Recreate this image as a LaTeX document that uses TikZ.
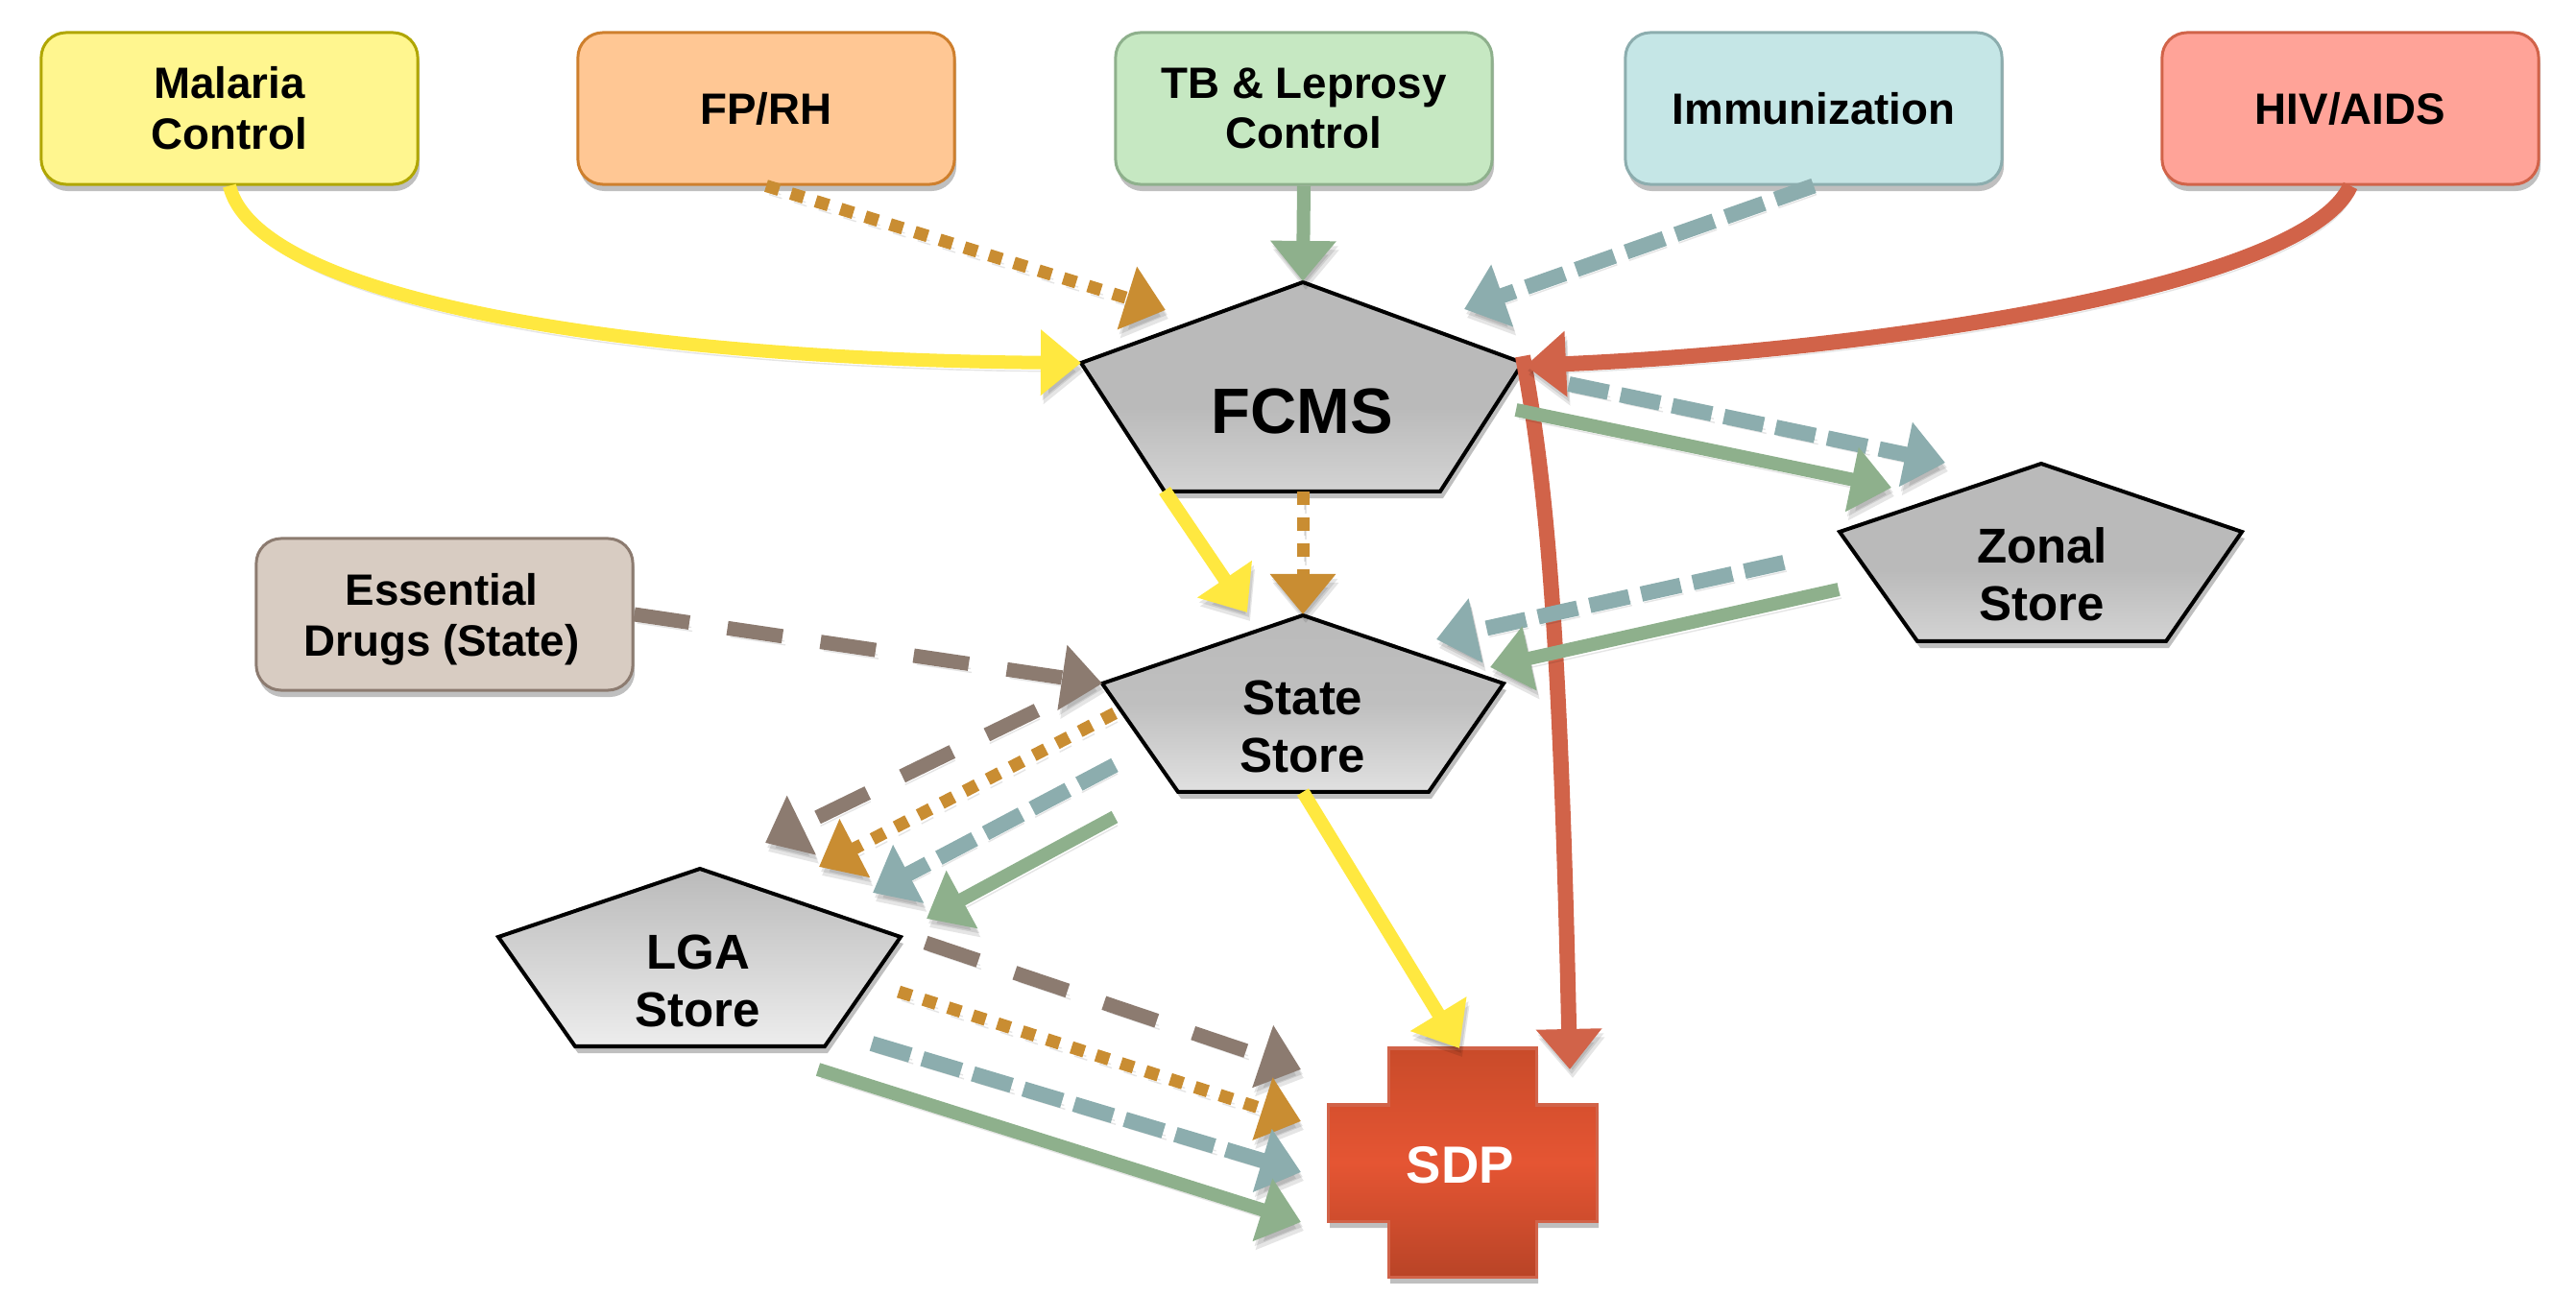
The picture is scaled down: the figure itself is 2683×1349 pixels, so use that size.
\documentclass[tikz,border=0pt]{standalone}
\usepackage{fontspec}
\setmainfont{Liberation Sans}
\usepackage{tikz}
\usetikzlibrary{arrows.meta, shadows}

\definecolor{hivred}{HTML}{D16349}
\definecolor{malyellow}{HTML}{FFE840}
\definecolor{tbgreen}{HTML}{8EB08C}
\definecolor{immteal}{HTML}{8CADAE}
\definecolor{fporange}{HTML}{C98D32}
\definecolor{essbrown}{HTML}{8C7B70}
\definecolor{malfill}{HTML}{FFF68F}
\definecolor{fpfill}{HTML}{FFC794}
\definecolor{tbfill}{HTML}{C6E8C2}
\definecolor{immfill}{HTML}{C5E6E6}
\definecolor{hivfill}{HTML}{FFA398}
\definecolor{essfill}{HTML}{D8CCC2}
\definecolor{sdpdark}{HTML}{B94427}
\definecolor{sdpmid}{HTML}{E55533}
\definecolor{sdptop}{HTML}{C94B2A}
\pgfdeclareverticalshading{storefade}{100bp}{color(0bp)=(black!17); color(25bp)=(black!17); color(45bp)=(black!27); color(100bp)=(black!27)}

\tikzset{
    link/.style={-{Triangle[length=0.42cm, width=0.66cm]}, dash pattern=#1,
        preaction={draw=black, dash pattern=#1, opacity=.1, transform canvas={xshift=.03cm, yshift=-.09cm}},
        preaction={draw=black, dash pattern=#1, opacity=.1, transform canvas={xshift=.02cm, yshift=-.05cm}}},
    link/.default={on 60cm off 0cm},
    yellowlink/.style={link, draw=malyellow, line width=0.14cm},
    greenlink/.style={link, draw=tbgreen, line width=0.14cm},
    redlink/.style={link, draw=hivred, line width=0.16cm},
    teallink/.style={link={on 0.42cm off 0.13cm}, draw=immteal, line width=0.16cm},
    orangelink/.style={link={on 0.14cm off 0.13cm}, draw=fporange, line width=0.13cm},
    brownlink/.style={link={on 0.58cm off 0.4cm}, draw=essbrown, line width=0.15cm},
    programtext/.style={align=center, font=\fontsize{13}{15}\selectfont\bfseries},
    program/.style 2 args={programtext, draw=#1, fill=#2, line width=0.03cm, rounded corners=0.26cm,
        minimum width=3.92cm, minimum height=1.58cm,
        drop shadow={shadow xshift=0.02cm, shadow yshift=-0.07cm, opacity=.25, fill=black}},
    storeshape/.style={draw=black, line width=0.04cm,
        drop shadow={shadow xshift=0.03cm, shadow yshift=-0.07cm, opacity=.25, fill=black}},
    storetext/.style={align=center, font=\fontsize{14.5}{17}\selectfont\bfseries}
}

\begin{document}
\begin{tikzpicture}[x=0.01cm, y=-0.01cm]
    \useasboundingbox (0, 0) rectangle (2683, 1349);

    % programs
    \node[program={olive!70!yellow}{malfill}] (malaria) at (239, 113) {Malaria\\Control};
    \node[program={fporange!90!red}{fpfill}] (fprh) at (798, 113) {FP/RH};
    \node[program={tbgreen}{tbfill}] (tb) at (1358, 113) {TB \& Leprosy\\Control};
    \node[program={immteal}{immfill}] (immun) at (1889, 113) {Immunization};
    \node[program={hivred}{hivfill}] (hiv) at (2448, 113) {HIV/AIDS};
    \node[program={essbrown}{essfill}] (essential) at (463, 640) {};
    \node[programtext] (essentialText) at (460, 645) {Essential\\Drugs (State)};

    % stores
    \draw[storeshape, shading=storefade]
        (1357, 294) -- (1586, 378) -- (1500, 512) -- (1213, 512) -- (1126, 378) -- cycle;
    \draw[storeshape, shading=storefade]
        (2126, 483) -- (2335, 554) -- (2256, 668) -- (1997, 668) -- (1916, 554) -- cycle;
    \draw[storeshape, top color=black!27, bottom color=black!12, middle color=black!25]
        (1357, 641) -- (1566, 712) -- (1488, 825) -- (1227, 825) -- (1148, 712) -- cycle;
    \draw[storeshape, top color=black!27, bottom color=black!7]
        (729, 905) -- (938, 976) -- (859, 1090) -- (599, 1090) -- (519, 976) -- cycle;

    % SDP cross
    \draw[draw=hivred, line width=0.03cm, top color=sdptop, bottom color=sdpdark, middle color=sdpmid,
        drop shadow={shadow xshift=0.02cm, shadow yshift=-0.07cm, opacity=.25, fill=black}]
        (1446, 1092) -- (1600, 1092) -- (1600, 1151) -- (1663, 1151) -- (1663, 1272) -- (1600, 1272)
        -- (1600, 1330) -- (1446, 1330) -- (1446, 1272) -- (1383, 1272) -- (1383, 1151) -- (1446, 1151) -- cycle;

    \node[font=\fontsize{19}{22}\selectfont\bfseries] (fcms) at (1356, 429) {FCMS};
    \node[storetext] (zonal) at (2127, 598) {Zonal\\Store};
    \node[storetext] (state) at (1357, 757) {State\\Store};
    \node[storetext] (lga) at (727, 1022) {LGA\\Store};
    \node[text=white, font=\fontsize{15.5}{18}\selectfont\bfseries] (sdp) at (1521, 1214) {SDP};

    % attachment points
    \coordinate (fcmsTop) at (1357, 293);
    \coordinate (fcmsLeft) at (1126, 378);
    \coordinate (fcmsRight) at (1589, 381);
    \coordinate (fcmsFp) at (1214, 323);
    \coordinate (fcmsImm) at (1525, 322);
    \coordinate (fcmsHiv) at (1586, 371);
    \coordinate (fcmsBase) at (1357, 512);
    \coordinate (fcmsBaseLeft) at (1213, 511);
    \coordinate (fcmsGreen) at (1579, 427);
    \coordinate (fcmsTeal) at (1634, 400);
    \coordinate (zonalGreenIn) at (1970, 508);
    \coordinate (zonalTealIn) at (2026, 482);
    \coordinate (zonalGreenOut) at (1915, 614);
    \coordinate (zonalTealOut) at (1858, 586);
    \coordinate (stateTop) at (1357, 640);
    \coordinate (stateYellow) at (1299, 638);
    \coordinate (stateGreen) at (1552, 695);
    \coordinate (stateTeal) at (1496, 666);
    \coordinate (stateLeft) at (1148, 712);
    \coordinate (stateBase) at (1357, 825);
    \coordinate (stateBrown) at (1080, 740);
    \coordinate (stateOrange) at (1161, 743);
    \coordinate (stateTealOut) at (1161, 797);
    \coordinate (stateGreenOut) at (1161, 851);
    \coordinate (lgaBrown) at (797, 878);
    \coordinate (lgaOrange) at (853, 903);
    \coordinate (lgaTeal) at (909, 930);
    \coordinate (lgaGreen) at (965, 957);
    \coordinate (lgaBrownOut) at (964, 982);
    \coordinate (lgaOrangeOut) at (936, 1033);
    \coordinate (lgaTealOut) at (908, 1087);
    \coordinate (lgaGreenOut) at (852, 1114);
    \coordinate (sdpBrown) at (1355, 1114);
    \coordinate (sdpOrange) at (1355, 1168);
    \coordinate (sdpTeal) at (1355, 1221);
    \coordinate (sdpGreen) at (1355, 1273);
    \coordinate (sdpYellow) at (1520, 1092);
    \coordinate (sdpRed) at (1635, 1114);

    % red line to the SDP goes under the others
    \draw[redlink] (fcmsHiv) .. controls (1610, 500) and (1625, 650) .. (sdpRed);

    % into FCMS
    \draw[yellowlink] (malaria.south) .. controls (270, 320) and (700, 375) .. (fcmsLeft);
    \draw[orangelink] (fprh.south) -- (fcmsFp);
    \draw[greenlink] (tb.south) -- (fcmsTop);
    \draw[teallink] (immun.south) -- (fcmsImm);
    \draw[redlink] (hiv.south) .. controls (2400, 300) and (1950, 365) .. (fcmsRight);

    % FCMS to zonal and state
    \draw[teallink] (fcmsTeal) -- (zonalTealIn);
    \draw[greenlink] (fcmsGreen) -- (zonalGreenIn);
    \draw[yellowlink] (fcmsBaseLeft) -- (stateYellow);
    \draw[orangelink] (fcmsBase) -- (stateTop);
    \draw[teallink] (zonalTealOut) -- (stateTeal);
    \draw[greenlink] (zonalGreenOut) -- (stateGreen);
    \draw[brownlink] (essential.east) -- (stateLeft);

    % state to LGA
    \draw[brownlink] (stateBrown) -- (lgaBrown);
    \draw[orangelink] (stateOrange) -- (lgaOrange);
    \draw[teallink] (stateTealOut) -- (lgaTeal);
    \draw[greenlink] (stateGreenOut) -- (lgaGreen);

    % to SDP
    \draw[yellowlink] (stateBase) -- (sdpYellow);
    \draw[brownlink] (lgaBrownOut) -- (sdpBrown);
    \draw[orangelink] (lgaOrangeOut) -- (sdpOrange);
    \draw[teallink] (lgaTealOut) -- (sdpTeal);
    \draw[greenlink] (lgaGreenOut) -- (sdpGreen);
\end{tikzpicture}
\end{document}
